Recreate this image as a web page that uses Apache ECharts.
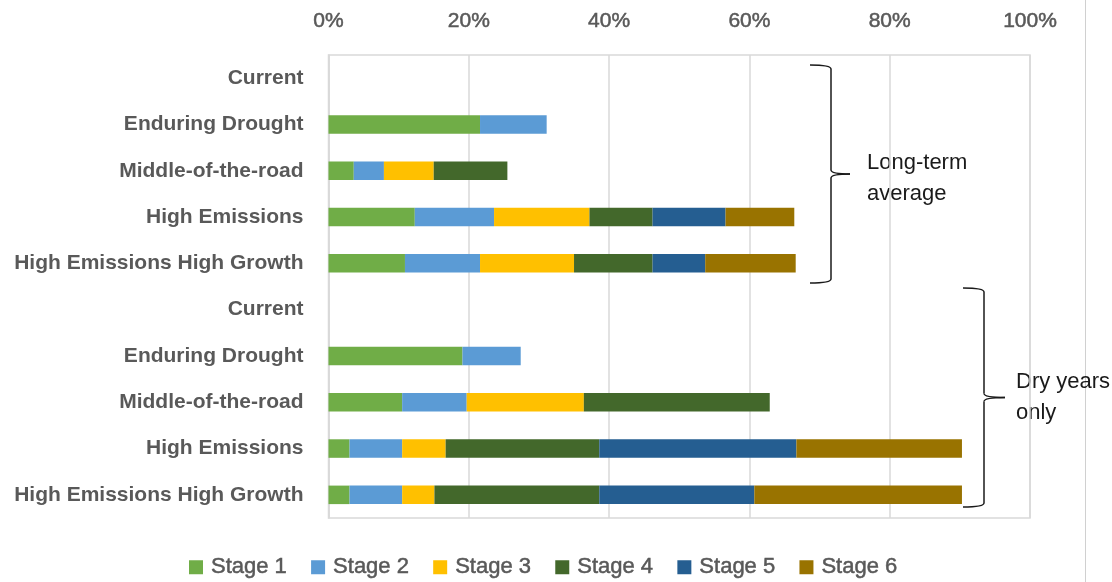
<!DOCTYPE html>
<html>
<head>
<meta charset="utf-8">
<title>Stage distribution by scenario</title>
<script src="https://cdn.jsdelivr.net/npm/echarts@6/dist/echarts.min.js"></script>
<style>
  html, body { margin: 0; padding: 0; background: #ffffff; }
  #chart { width: 1112px; height: 582px; }
</style>
</head>
<body>
<div id="chart"></div>
<script>
// Scenario rows, top to bottom (long-term average block, then dry-years block)
const scenarios = [
  'Current', 'Enduring Drought', 'Middle-of-the-road', 'High Emissions', 'High Emissions High Growth',
  'Current', 'Enduring Drought', 'Middle-of-the-road', 'High Emissions', 'High Emissions High Growth'
];

const stageNames = ['Stage 1', 'Stage 2', 'Stage 3', 'Stage 4', 'Stage 5', 'Stage 6'];
const stageColors = ['#70AD47', '#5B9BD5', '#FFC000', '#43682B', '#255E91', '#997300'];

// Share of time in each stage (%), one value per scenario row
const stage1 = [0, 21.6, 3.6, 12.3, 10.9, 0, 19.1, 10.5, 3.0, 3.0];
const stage2 = [0, 9.5, 4.3, 11.3, 10.7, 0, 8.3, 9.2, 7.5, 7.5];
const stage3 = [0, 0, 7.1, 13.6, 13.4, 0, 0, 16.7, 6.2, 4.6];
const stage4 = [0, 0, 10.5, 9.0, 11.2, 0, 0, 26.5, 21.9, 23.5];
const stage5 = [0, 0, 0, 10.4, 7.5, 0, 0, 0, 28.1, 22.1];
const stage6 = [0, 0, 0, 9.8, 12.9, 0, 0, 0, 23.6, 29.6];

// Percent ticks along the top axis
const tickMin = 0, tickMax = 100, tickStep = 20;

const stageValues = [stage1, stage2, stage3, stage4, stage5, stage6];

const chart = echarts.init(document.getElementById('chart'), null, { renderer: 'canvas' });

const series = stageNames.map((name, s) => ({
  name: name,
  type: 'bar',
  stack: 'stages',
  barWidth: '40%',
  itemStyle: { color: stageColors[s] },
  emphasis: { disabled: true },
  data: stageValues[s].map(v => (v > 0 ? v : null))
}));

// Right-hand curly brace built from straight and curved segments
function brace(x0, x1, xt, yTop, yBot) {
  const ym = (yTop + yBot) / 2;
  const r = 4;
  const st = { stroke: '#1a1a1a', lineWidth: 1.5, fill: null };
  const curve = (ax, ay, cx, cy, bx, by) => ({
    type: 'bezierCurve',
    shape: { x1: ax, y1: ay, cpx1: cx, cpy1: cy, x2: bx, y2: by },
    style: st, silent: true
  });
  const seg = (ax, ay, bx, by) => ({
    type: 'line',
    shape: { x1: ax, y1: ay, x2: bx, y2: by },
    style: st, silent: true
  });
  return {
    type: 'group',
    silent: true,
    children: [
      curve(x0, yTop, x1, yTop, x1, yTop + r),
      seg(x1, yTop + r, x1, ym - r),
      curve(x1, ym - r, x1, ym, xt, ym),
      curve(xt, ym, x1, ym, x1, ym + r),
      seg(x1, ym + r, x1, yBot - r),
      curve(x1, yBot - r, x1, yBot, x0, yBot)
    ]
  };
}

const option = {
  backgroundColor: '#ffffff',
  animation: false,
  textStyle: { fontFamily: 'Liberation Sans, Arial, sans-serif' },
  grid: { left: 328.5, right: 82, top: 55, bottom: 64, show: true, borderColor: '#D9D9D9', borderWidth: 1.5 },
  xAxis: {
    type: 'value',
    position: 'top',
    min: tickMin,
    max: tickMax,
    interval: tickStep,
    axisLine: { show: false },
    axisTick: { show: false },
    splitLine: { show: true, lineStyle: { color: '#D9D9D9', width: 1.5 } },
    axisLabel: {
      formatter: '{value}%',
      color: '#595959',
      fontSize: 21,
      textBorderColor: '#595959',
      textBorderWidth: 0.5,
      margin: 23
    }
  },
  yAxis: {
    type: 'category',
    inverse: true,
    data: scenarios.map((_, i) => String(i)),
    axisLine: { show: true, lineStyle: { color: '#D9D9D9', width: 1.5 } },
    axisTick: { show: false },
    splitLine: { show: false },
    axisLabel: {
      formatter: (v) => scenarios[Number(v)],
      color: '#595959',
      fontSize: 21,
      fontWeight: 'bold',
      margin: 25
    }
  },
  legend: {
    data: stageNames,
    left: 189,
    top: 556,
    padding: 0,
    icon: 'rect',
    itemWidth: 14,
    itemHeight: 14,
    itemGap: 24,
    textStyle: {
      color: '#595959',
      fontSize: 22,
      textBorderColor: '#595959',
      textBorderWidth: 0.5,
      padding: [0, 0, 0, 3]
    }
  },
  series: series,
  graphic: [
    {
      type: 'line',
      shape: { x1: 1085.5, y1: 0, x2: 1085.5, y2: 582 },
      style: { stroke: '#D0D0D0', lineWidth: 1 },
      silent: true
    },
    brace(810, 831, 850, 65, 283),
    brace(963, 984, 1005, 288, 507),
    {
      type: 'text',
      left: 867,
      top: 147,
      style: {
        text: 'Long-term\naverage',
        fill: '#1a1a1a',
        font: '22px "Liberation Sans", Arial, sans-serif',
        lineHeight: 31
      },
      silent: true
    },
    {
      type: 'text',
      left: 1016,
      top: 366,
      style: {
        text: 'Dry years\nonly',
        fill: '#1a1a1a',
        font: '22px "Liberation Sans", Arial, sans-serif',
        lineHeight: 31
      },
      silent: true
    }
  ]
};

chart.setOption(option);
</script>
</body>
</html>
